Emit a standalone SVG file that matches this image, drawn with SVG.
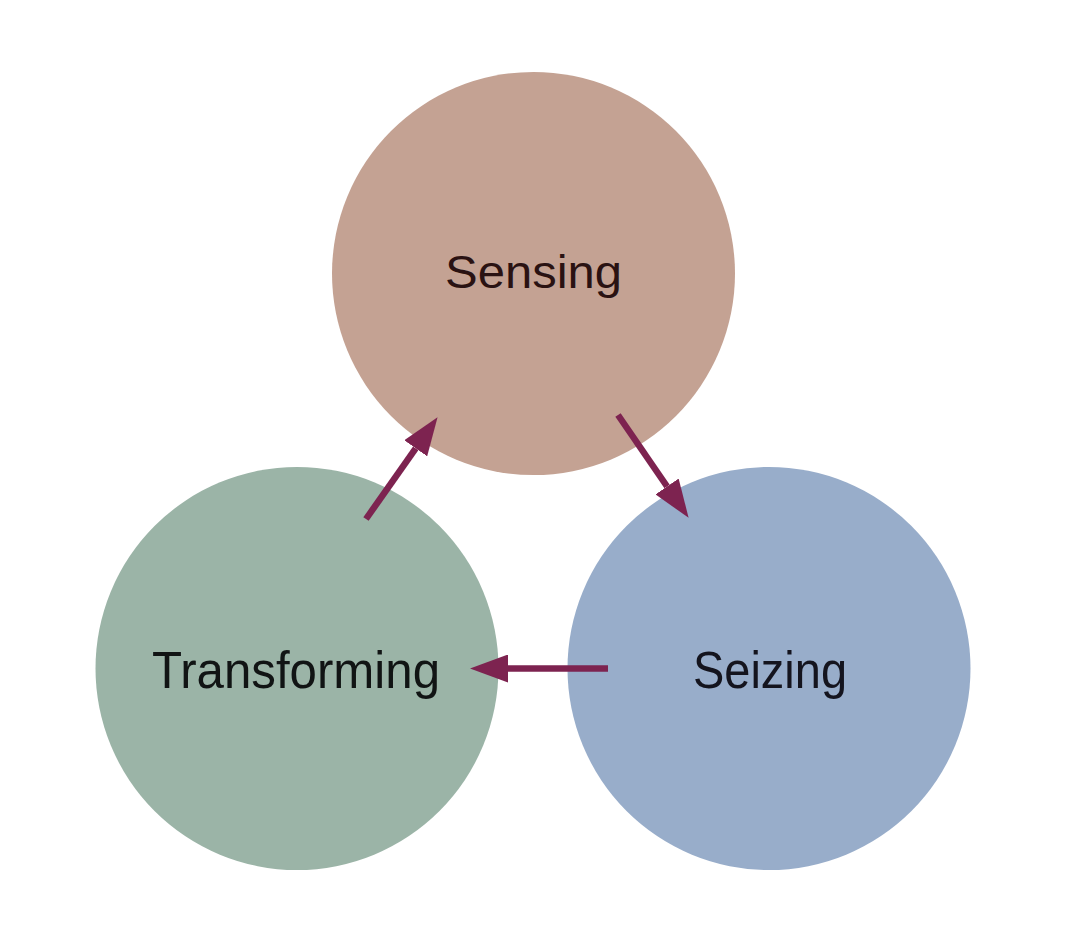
<svg xmlns="http://www.w3.org/2000/svg" width="1085" height="942" viewBox="0 0 1085 942">
<defs>
<style>
.lbl{font-family:"Liberation Sans",Arial,sans-serif;text-anchor:middle}
.arr{stroke:#7d2350;stroke-width:6.5;fill:none;marker-end:url(#head)}
</style>
<marker id="head" markerUnits="userSpaceOnUse" viewBox="0 0 38 28" refX="0" refY="14" markerWidth="38" markerHeight="28" orient="auto">
<path d="M0,0 L38,14 L0,28 Z" fill="#7d2350"/>
</marker>
</defs>
<rect width="1085" height="942" fill="#ffffff"/>
<g id="sensing">
<circle cx="533.5" cy="273.5" r="201.5" fill="#c4a293"/>
<text class="lbl" x="533.5" y="288" font-size="46" fill="#2a1212" textLength="177" lengthAdjust="spacingAndGlyphs">Sensing</text>
</g>
<g id="transforming">
<circle cx="297" cy="668.5" r="201.5" fill="#9bb4a7"/>
<text class="lbl" x="296" y="688" font-size="52" fill="#111414" textLength="288" lengthAdjust="spacingAndGlyphs">Transforming</text>
</g>
<g id="seizing">
<circle cx="769" cy="668.5" r="201.5" fill="#98adca"/>
<text class="lbl" x="770" y="688" font-size="52" fill="#14141e" textLength="154" lengthAdjust="spacingAndGlyphs">Seizing</text>
</g>
<g id="connectors">
<line class="arr" x1="366" y1="519" x2="415.7" y2="448.3"/>
<line class="arr" x1="618" y1="415" x2="667.1" y2="486.5"/>
<line class="arr" x1="608" y1="668.5" x2="508" y2="668.5"/>
</g>
</svg>
